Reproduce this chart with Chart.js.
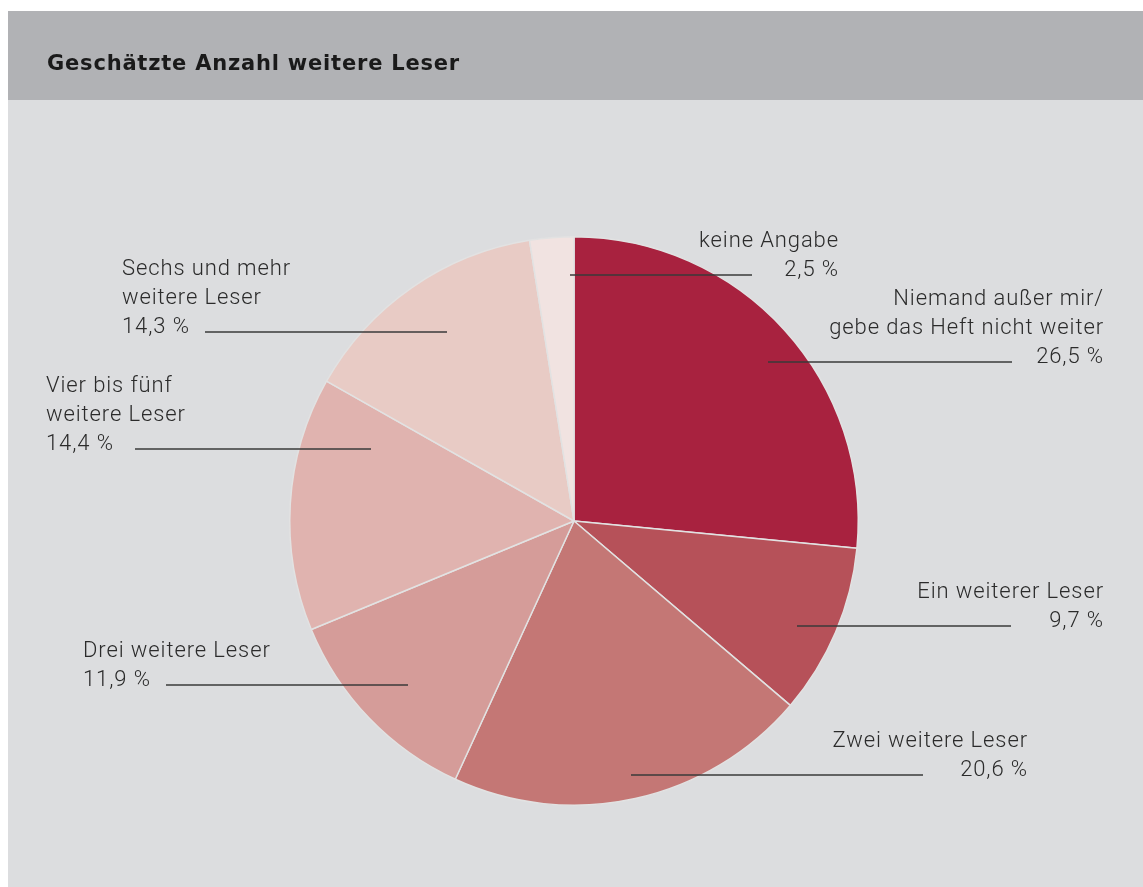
<!DOCTYPE html>
<html>
<head>
<meta charset="utf-8">
<script src="https://cdn.jsdelivr.net/npm/chart.js@4/dist/chart.umd.min.js"></script>
<style>
  html, body { margin: 0; padding: 0; background: #fff; }
  #wrap { width: 1143px; height: 887px; position: relative; }
</style>
</head>
<body>
<div id="wrap"><canvas id="chart" width="1143" height="887"></canvas></div>
<script>
const title = 'Geschätzte Anzahl weitere Leser'
const categories = [
  ['Niemand außer mir/', 'gebe das Heft nicht weiter'],
  ['Ein weiterer Leser'],
  ['Zwei weitere Leser'],
  ['Drei weitere Leser'],
  ['Vier bis fünf', 'weitere Leser'],
  ['Sechs und mehr', 'weitere Leser'],
  ['keine Angabe']
]
const values = [26.5, 9.7, 20.6, 11.9, 14.4, 14.3, 2.5]
const colors = ['#a8223f', '#b65159', '#c47775', '#d59c99', '#e0b3af', '#e8cbc5', '#f1e3e1']

// label placement: text anchor, alignment, leader line start/end (x) on last text line
const labelLayout = [
  { x: 1104, y: 305, align: 'right', line: [768, 1012] },
  { x: 1104, y: 598, align: 'right', line: [797, 1011] },
  { x: 1028, y: 747, align: 'right', line: [631, 923] },
  { x: 83, y: 657, align: 'left', line: [166, 408] },
  { x: 46, y: 392, align: 'left', line: [135, 371] },
  { x: 122, y: 275, align: 'left', line: [205, 447] },
  { x: 839, y: 247, align: 'right', line: [570, 752] }
]

const fmt = v => v.toFixed(1).replace('.', ',') + ' %'

const frame = {
  id: 'frame',
  beforeDraw (chart) {
    const ctx = chart.ctx
    ctx.save()
    ctx.fillStyle = '#ffffff'
    ctx.fillRect(0, 0, 1143, 887)
    ctx.fillStyle = '#b1b2b5'
    ctx.fillRect(8, 11, 1135, 89)
    ctx.fillStyle = '#dcdddf'
    ctx.fillRect(8, 100, 1135, 787)
    ctx.fillStyle = '#1a1a1a'
    ctx.font = 'bold 21px "DejaVu Sans", sans-serif'
    ctx.letterSpacing = '0.8px'
    ctx.textBaseline = 'alphabetic'
    ctx.fillText(title, 47, 70)
    ctx.restore()
  },
  afterDraw (chart) {
    const ctx = chart.ctx
    const lh = 29
    ctx.save()
    ctx.font = '300 22px Roboto, "Liberation Sans", sans-serif'
    ctx.letterSpacing = '0.9px'
    ctx.fillStyle = '#2b2b2b'
    ctx.strokeStyle = '#3a3a3a'
    ctx.lineWidth = 1.5
    ctx.textBaseline = 'alphabetic'
    labelLayout.forEach((l, i) => {
      const lines = categories[i].slice()
      lines.push(fmt(values[i]))
      ctx.textAlign = l.align
      lines.forEach((t, k) => ctx.fillText(t, l.x, l.y + k * lh))
      const ly = l.y + (lines.length - 1) * lh - 1
      ctx.beginPath()
      ctx.moveTo(l.line[0], ly)
      ctx.lineTo(l.line[1], ly)
      ctx.stroke()
    })
    ctx.restore()
  }
}

new Chart(document.getElementById('chart'), {
  type: 'pie',
  data: {
    labels: categories,
    datasets: [{
      data: values,
      backgroundColor: colors,
      borderColor: '#e2e2e2',
      borderWidth: 1.5
    }]
  },
  options: {
    responsive: false,
    animation: false,
    layout: { padding: { left: 289, right: 284, top: 236, bottom: 81 } },
    plugins: {
      legend: { display: false },
      tooltip: { enabled: false }
    }
  },
  plugins: [frame]
})
</script>
</body>
</html>
